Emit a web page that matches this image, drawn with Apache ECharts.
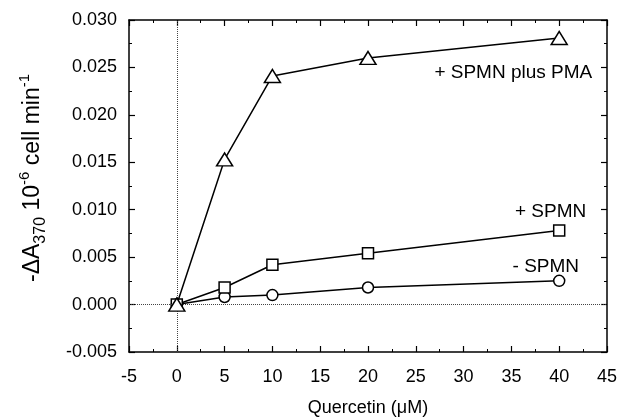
<!DOCTYPE html>
<html>
<head>
<meta charset="utf-8">
<script src="https://cdn.jsdelivr.net/npm/echarts@6/dist/echarts.min.js"></script>
<style>
  html, body { margin: 0; padding: 0; background: #fff; }
  #main { width: 620px; height: 417px; }
</style>
</head>
<body>
<div id="main"></div>
<script>
// quercetin concentrations (uM)
var quercetin = [0, 5, 10, 20, 40];
// -dA370 per 10^6 cells per min
var minusSpmn = [0, 0.0008, 0.001, 0.0018, 0.0025];
var plusSpmn = [0, 0.0018, 0.0042, 0.0054, 0.0078];
var spmnPma = [0, 0.0153, 0.0241, 0.0260, 0.0281];
// curve labels: text, x, y (data coords, label centre)
var curveLabels = [
    ['+ SPMN plus PMA', 35.2, 0.0244],
    ['+ SPMN', 39.1, 0.0098],
    ['- SPMN', 38.6, 0.0040]
];

var font = 'Liberation Sans, Arial, sans-serif';

function pairs(ys) {
    var out = [];
    for (var i = 0; i < quercetin.length; i++) {
        out.push([quercetin[i], ys[i]]);
    }
    return out;
}

var myChart = echarts.init(document.getElementById('main'));

var xBase = {
    type: 'value',
    min: -5,
    max: 45,
    interval: 5,
    axisLine: { onZero: false, lineStyle: { color: '#000', width: 1.5 } },
    axisTick: { inside: true, length: 6, lineStyle: { color: '#000', width: 1.2 } },
    minorTick: { show: true, splitNumber: 2, length: 3, lineStyle: { color: '#000', width: 1 } },
    splitLine: { show: false }
};
var yBase = {
    type: 'value',
    min: -0.005,
    max: 0.030,
    interval: 0.005,
    axisLine: { onZero: false, lineStyle: { color: '#000', width: 1.5 } },
    axisTick: { inside: true, length: 6, lineStyle: { color: '#000', width: 1.2 } },
    minorTick: { show: true, splitNumber: 2, length: 3, lineStyle: { color: '#000', width: 1 } },
    splitLine: { show: false }
};

var option = {
    animation: false,
    grid: { left: 129, right: 13, top: 20, bottom: 65, outerBoundsMode: 'none' },
    xAxis: [
        echarts.util.merge({
            position: 'bottom',
            name: 'Quercetin (\u03bcM)',
            nameLocation: 'middle',
            nameGap: 47,
            nameTextStyle: { color: '#000', fontSize: 18, fontFamily: font },
            axisLabel: { color: '#000', fontSize: 18, fontFamily: font, margin: 16 }
        }, xBase, true),
        echarts.util.merge({
            position: 'top',
            axisLabel: { show: false }
        }, xBase, true)
    ],
    yAxis: [
        echarts.util.merge({
            position: 'left',
            name: '{a|-\u0394A}{sub|370}{a| 10}{sup|-6}{a| cell min}{sup|-1}',
            nameLocation: 'middle',
            nameGap: 80,
            nameTextStyle: {
                color: '#000',
                fontFamily: font,
                padding: [0, 0, 0, 16],
                rich: {
                    a: { fontSize: 23, fontFamily: font, color: '#000', lineHeight: 32, verticalAlign: 'middle' },
                    sub: { fontSize: 16, fontFamily: font, color: '#000', lineHeight: 32, verticalAlign: 'bottom' },
                    sup: { fontSize: 15, fontFamily: font, color: '#000', lineHeight: 32, verticalAlign: 'top' }
                }
            },
            axisLabel: {
                color: '#000', fontSize: 18, fontFamily: font, margin: 12,
                formatter: function (v) { return v.toFixed(3); }
            }
        }, yBase, true),
        echarts.util.merge({
            position: 'right',
            axisLabel: { show: false }
        }, yBase, true)
    ],
    series: [
        {
            type: 'line',
            data: pairs(minusSpmn),
            symbol: 'circle',
            symbolSize: 11,
            itemStyle: { color: '#fff', borderColor: '#000', borderWidth: 1.5 },
            lineStyle: { color: '#000', width: 1.5 },
            z: 3,
            markLine: {
                silent: true,
                symbol: 'none',
                label: { show: false },
                lineStyle: { color: '#444', width: 1, type: 'dotted' },
                data: [{ xAxis: 0 }, { yAxis: 0 }]
            }
        },
        {
            type: 'line',
            data: pairs(plusSpmn),
            symbol: 'rect',
            symbolSize: 11,
            itemStyle: { color: '#fff', borderColor: '#000', borderWidth: 1.5 },
            lineStyle: { color: '#000', width: 1.5 },
            z: 4
        },
        {
            type: 'line',
            data: pairs(spmnPma),
            symbol: 'triangle',
            symbolSize: [16, 13],
            itemStyle: { color: '#fff', borderColor: '#000', borderWidth: 1.5 },
            lineStyle: { color: '#000', width: 1.5 },
            z: 5,
            markPoint: {
                symbol: 'circle',
                symbolSize: 0,
                label: {
                    show: true,
                    color: '#000',
                    fontSize: 19,
                    fontFamily: font,
                    formatter: function (p) { return p.name; }
                },
                data: curveLabels.map(function (l) {
                    return { name: l[0], coord: [l[1], l[2]] };
                })
            }
        }
    ]
};

myChart.setOption(option);
</script>
</body>
</html>
